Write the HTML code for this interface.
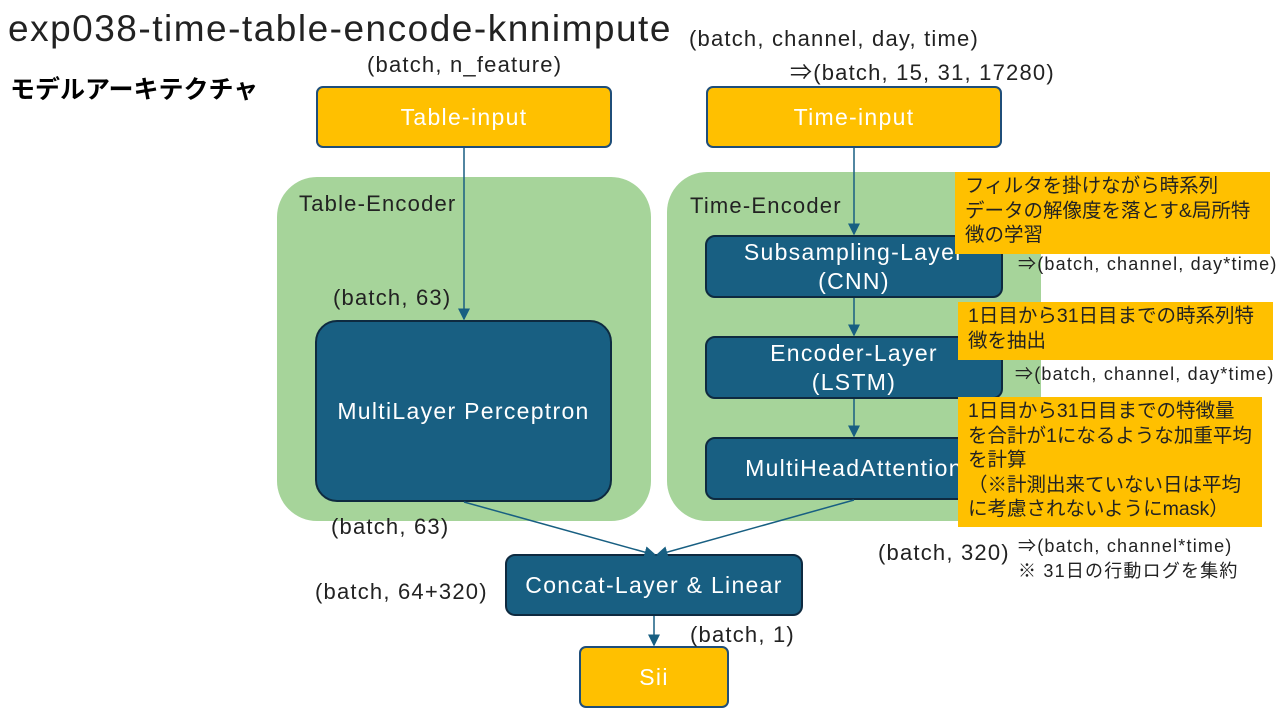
<!DOCTYPE html>
<html><head><meta charset="utf-8"><style>
body{margin:0;width:1280px;height:720px;background:#fff;position:relative;overflow:hidden;font-family:"Liberation Sans","Noto Sans CJK JP",sans-serif;}
.a{position:absolute;white-space:nowrap;}
.y{position:absolute;background:#ffc000;border:2px solid #1f4e79;border-radius:7px;box-sizing:border-box;color:#fff;font-size:23px;letter-spacing:1.3px;display:flex;align-items:center;justify-content:center;}
.b{position:absolute;background:#185f82;border:2px solid #0e2a40;border-radius:10px;box-sizing:border-box;color:#fff;font-size:23px;letter-spacing:1.3px;display:flex;align-items:center;justify-content:center;text-align:center;line-height:29px;overflow:hidden;white-space:nowrap;}
.g{position:absolute;background:#a6d49a;border-radius:40px;}
.n{position:absolute;background:#ffc000;color:#222;font-size:19.5px;line-height:24.5px;padding:2px 10px;box-sizing:border-box;white-space:nowrap;}
.t{font-size:22px;letter-spacing:1.2px;color:#222;}
.s{font-size:18px;letter-spacing:1.2px;color:#222;}
</style></head><body>
<div class="a" style="left:8px;top:8px;font-size:37px;letter-spacing:1.5px;color:#222">exp038-time-table-encode-knnimpute</div>
<div class="a" style="left:10px;top:70px;font-size:25px;font-weight:bold;color:#000">モデルアーキテクチャ</div>
<div class="a t" style="left:367px;top:52px">(batch, n_feature)</div>
<div class="a t" style="left:689px;top:26px">(batch, channel, day, time)</div>
<div class="a t" style="left:790px;top:55px">⇒(batch, 15, 31, 17280)</div>
<div class="g" style="left:277px;top:177px;width:374px;height:344px"></div>
<div class="g" style="left:667px;top:172px;width:374px;height:349px"></div>
<div class="a t" style="left:299px;top:191px">Table-Encoder</div>
<div class="a t" style="left:690px;top:193px">Time-Encoder</div>
<div class="y" style="left:316px;top:86px;width:296px;height:62px">Table-input</div>
<div class="y" style="left:706px;top:86px;width:296px;height:62px">Time-input</div>
<div class="b" style="left:315px;top:320px;width:297px;height:182px;border-radius:22px">MultiLayer Perceptron</div>
<div class="b" style="left:705px;top:235px;width:298px;height:63px">Subsampling-Layer<br>(CNN)</div>
<div class="b" style="left:705px;top:336px;width:298px;height:63px">Encoder-Layer<br>(LSTM)</div>
<div class="b" style="left:705px;top:437px;width:298px;height:63px">MultiHeadAttention</div>
<div class="b" style="left:505px;top:554px;width:298px;height:62px">Concat-Layer &amp; Linear</div>
<div class="y" style="left:579px;top:646px;width:150px;height:62px">Sii</div>
<svg class="a" style="left:0;top:0" width="1280" height="720">
<defs><marker id="m" markerWidth="8" markerHeight="8" refX="7" refY="4" orient="auto"><path d="M0,0L8,4L0,8z" fill="#185f82"/></marker></defs>
<g stroke="#185f82" stroke-width="1.5" fill="none" marker-end="url(#m)">
<line x1="464" y1="148" x2="464" y2="319"/>
<line x1="854" y1="148" x2="854" y2="234"/>
<line x1="854" y1="298" x2="854" y2="335"/>
<line x1="854" y1="399" x2="854" y2="436"/>
<line x1="464" y1="502" x2="655" y2="555"/>
<line x1="854" y1="500" x2="657" y2="555"/>
<line x1="654" y1="616" x2="654" y2="645"/>
</g></svg>
<div class="n" style="left:955px;top:172px;width:315px;height:82px">フィルタを掛けながら時系列<br>データの解像度を落とす&amp;局所特<br>徴の学習</div>
<div class="n" style="left:958px;top:302px;width:315px;height:58px">1日目から31日目までの時系列特<br>徴を抽出</div>
<div class="n" style="left:958px;top:397px;width:304px;height:130px">1日目から31日目までの特徴量<br>を合計が1になるような加重平均<br>を計算<br>（※計測出来ていない日は平均<br>に考慮されないようにmask）</div>
<div class="a s" style="left:1018px;top:250px">⇒(batch, channel, day*time)</div>
<div class="a s" style="left:1015px;top:360px">⇒(batch, channel, day*time)</div>
<div class="a s" style="left:1018px;top:532px">⇒(batch, channel*time)</div>
<div class="a s" style="left:1018px;top:557px">※ 31日の行動ログを集約</div>
<div class="a t" style="left:878px;top:540px">(batch, 320)</div>
<div class="a t" style="left:333px;top:285px">(batch, 63)</div>
<div class="a t" style="left:331px;top:514px">(batch, 63)</div>
<div class="a t" style="left:315px;top:579px">(batch, 64+320)</div>
<div class="a t" style="left:690px;top:622px">(batch, 1)</div>
</body></html>
